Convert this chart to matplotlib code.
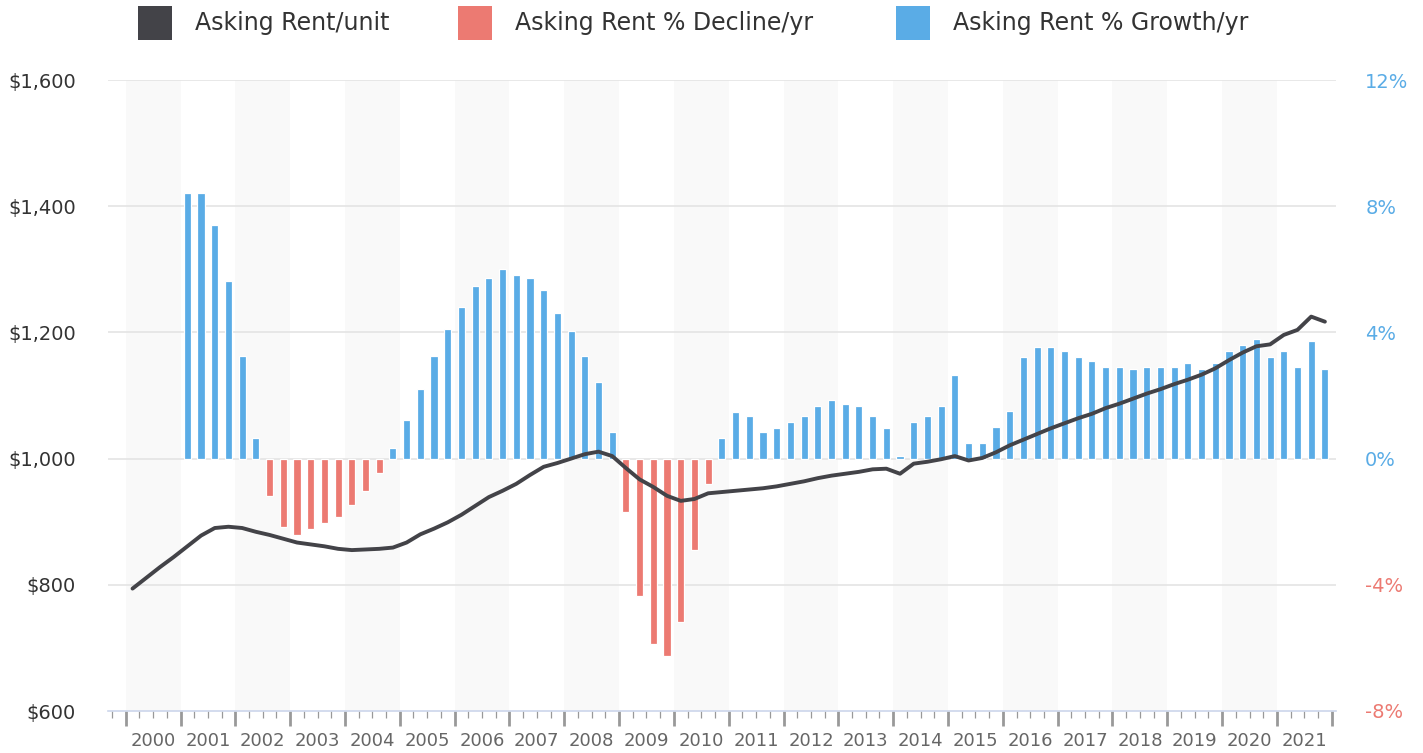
import numpy as np
import matplotlib
matplotlib.use("Agg")
import matplotlib.pyplot as plt
from matplotlib.patches import Rectangle
from matplotlib.transforms import blended_transform_factory

plt.rcParams['font.family'] = ['DejaVu Sans']

# ---------------- data ----------------
years = list(range(2000, 2022))  # quarterly data 2000Q1 .. 2021Q4

rent_per_unit = [794, 811, 828, 844, 861, 878, 890, 892, 890, 884,
                 879, 873, 867, 864, 861, 857, 855, 856, 857, 859,
                 867, 880, 889, 899, 911, 925, 939, 949, 960, 974,
                 987, 993, 1000, 1007, 1011, 1004, 985, 967, 955, 941,
                 933, 936, 945, 947, 949, 951, 953, 956, 960, 964,
                 969, 973, 976, 979, 983, 984, 976, 992, 995, 999,
                 1004, 997, 1001, 1010, 1021, 1030, 1039, 1048, 1056, 1064,
                 1071, 1080, 1087, 1095, 1103, 1110, 1118, 1125, 1133, 1143,
                 1156, 1168, 1178, 1181, 1196, 1204, 1225, 1217]

# yearly % change, 2001Q1 .. 2021Q4
rent_change_pct = [8.43, 8.43, 7.41, 5.64,
                   3.24, 0.64, -1.17, -2.18,
                   -2.43, -2.24, -2.05, -1.86,
                   -1.48, -1.04, -0.47, 0.35,
                   1.21, 2.22, 3.24, 4.12,
                   4.82, 5.46, 5.71, 6.02,
                   5.83, 5.71, 5.33, 4.63,
                   4.06, 3.24, 2.42, 0.83,
                   -1.70, -4.36, -5.88, -6.26,
                   -5.18, -2.91, -0.82, 0.64,
                   1.47, 1.34, 0.83, 0.96,
                   1.15, 1.34, 1.66, 1.85,
                   1.72, 1.66, 1.34, 0.96,
                   0.07, 1.15, 1.34, 1.66,
                   2.66, 0.51, 0.51, 1.01,
                   1.52, 3.23, 3.54, 3.54,
                   3.42, 3.23, 3.10, 2.91,
                   2.91, 2.85, 2.91, 2.91,
                   2.91, 3.04, 2.85, 3.04,
                   3.42, 3.61, 3.80, 3.23,
                   3.42, 2.91, 3.73, 2.85]
pct_start_index = 4  # first % value is 2001Q1

left_ticks = [600, 800, 1000, 1200, 1400, 1600]
right_ticks = [-8, -4, 0, 4, 8, 12]

series_names = ["Asking Rent/unit", "Asking Rent % Decline/yr", "Asking Rent % Growth/yr"]

# ---------------- styles ----------------
C_LINE = '#434348'
C_RED = '#ec7a72'
C_BLUE = '#5aace6'
C_BAND = '#f9f9f9'
C_GRID = '#e6e6e6'

W, H = 1423, 753
fig = plt.figure(figsize=(W / 100, H / 100), dpi=100)
ax = fig.add_axes([108 / W, 1 - 711 / H, (1336 - 108) / W, (711 - 80) / H])
ax2 = ax.twinx()

q = np.arange(len(rent_per_unit))
pct = np.array(rent_change_pct)
qb = q[pct_start_index:pct_start_index + len(pct)]

# alternating year bands
for i, yr in enumerate(years):
    if yr % 2 == 0:
        ax.axvspan(4 * i - 0.5, 4 * i + 3.5, color=C_BAND, zorder=0, lw=0)

# bars (percent axis)
growth = np.where(pct >= 0, pct, 0)
decline = np.where(pct < 0, pct, 0)
ax.bar(qb[pct >= 0], growth[pct >= 0], width=0.52, color=C_BLUE,
       edgecolor='white', linewidth=0.9, zorder=3)
ax.bar(qb[pct < 0], decline[pct < 0], width=0.52, color=C_RED,
       edgecolor='white', linewidth=0.9, zorder=3)

ax.set_ylim(-8, 12)
ax.set_yticks(right_ticks)
for yv in right_ticks[1:]:
    ax.axhline(yv, color=C_GRID, lw=1.3, zorder=1)

# line (dollar axis)
ax2.plot(q, rent_per_unit, color=C_LINE, lw=2.8, solid_capstyle='round',
         solid_joinstyle='round', zorder=5)
ax2.set_ylim(600, 1600)
ax2.set_yticks(left_ticks)

# swap sides: % on right, $ on left
ax.yaxis.tick_right()
ax2.yaxis.tick_left()
ax.set_yticklabels([f"{v}%" for v in right_ticks])
for lab, v in zip(ax.get_yticklabels(), right_ticks):
    lab.set_color(C_RED if v < 0 else C_BLUE)
ax2.set_yticklabels([f"${v:,}" for v in left_ticks])
ax.tick_params(axis='y', length=0, pad=21, labelsize=14)
ax2.tick_params(axis='y', length=0, pad=23, labelsize=14, labelcolor='#333333')

# x axis
ax.set_xlim(-1.79, 87.81)
major = np.arange(-0.5, 4 * len(years), 4)
minor = np.array([m for m in np.arange(-1.5, 4 * len(years), 1) if (m + 0.5) % 4 != 0])
ax.set_xticks(major)
ax.set_xticklabels([])
ax.set_xticks(minor, minor=True)
ax.tick_params(axis='x', which='major', length=11, width=2.0, color='#999999', direction='out', pad=0)
ax.tick_params(axis='x', which='minor', length=5, width=0.9, color='#999999', direction='out')
ax2.set_xlim(ax.get_xlim())

trans = blended_transform_factory(ax.transData, ax.transAxes)
for i, yr in enumerate(years):
    ax.text(4 * i + 1.5, -30 / 631, str(yr), transform=trans, ha='center', va='center',
            fontsize=13, color='#666666')

for a in (ax, ax2):
    for s in ('top', 'left', 'right'):
        a.spines[s].set_visible(False)
    a.spines['bottom'].set_visible(False)
ax.spines['bottom'].set_visible(True)
ax.spines['bottom'].set_color('#ccd6eb')
ax.spines['bottom'].set_linewidth(1.2)
ax.spines['bottom'].set_zorder(2)

# legend (manual, figure pixel coordinates)
legend_colors = [C_LINE, C_RED, C_BLUE]
legend_x = [138, 458, 896]
for name, col, x0 in zip(series_names, legend_colors, legend_x):
    fig.add_artist(Rectangle((x0 / W, 1 - 40 / H), 34 / W, 34 / H,
                             transform=fig.transFigure, color=col, lw=0))
    fig.text((x0 + 57) / W, 1 - 23 / H, name, ha='left', va='center',
             fontsize=17, color='#333333')

fig.savefig("out.png", dpi=100)
